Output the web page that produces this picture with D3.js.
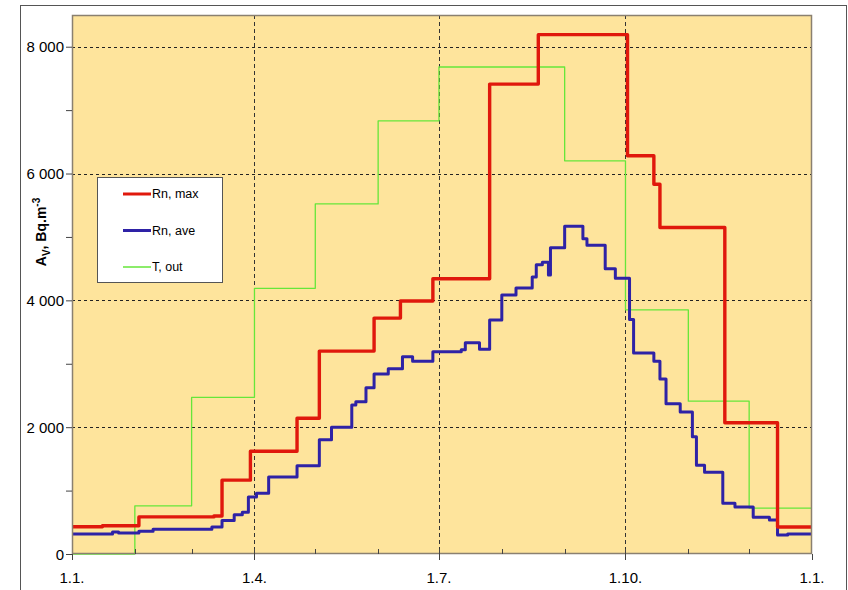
<!DOCTYPE html>
<meta charset="utf-8">
<style>
  body { margin: 0; background: #fff; }
  text { font-family: "Liberation Sans Narrow", "Liberation Sans", Arial, sans-serif; fill: #000; }
</style>
<script src="https://d3js.org/d3.v7.min.js"></script>
<svg id="chart" width="848" height="590"></svg>
<script>
  // day of year where each step starts, and its value (Bq/m3)
  var maxDays   = [0, 15, 33, 70, 74, 88, 111, 122, 149, 162, 178, 206, 230, 274, 287, 290, 322, 348, 365];
  var maxValues = [430, 445, 585, 600, 1165, 1620, 2140, 3200, 3720, 3990, 4340, 7410, 8190, 6280, 5830, 5150, 2070, 425, 425];

  var aveDays   = [0, 20, 23, 33, 40, 69, 74, 80, 84, 87, 91, 97, 111, 122, 128, 138, 140, 145, 149, 156, 163, 168, 178,
                   192, 194, 201, 206, 212, 219, 227, 229, 232, 235, 236, 243, 252, 254, 263, 268, 275, 277, 287, 290,
                   293, 300, 306, 308, 312, 321, 327, 336, 344, 348, 353, 365];
  var aveValues = [315, 345, 330, 360, 390, 425, 530, 620, 660, 900, 960, 1215, 1390, 1800, 2000, 2350, 2400, 2620, 2840, 2920, 3110, 3040, 3190,
                   3220, 3330, 3230, 3690, 4085, 4195, 4370, 4560, 4600, 4400, 4830, 5170, 4970, 4870, 4500, 4350, 3700, 3170, 3040, 2760,
                   2370, 2240, 1850, 1400, 1290, 800, 740, 580, 535, 300, 315, 315];

  // outdoor temperature (monthly steps, on the same scale)
  var tDays   = [0, 31, 59, 90, 120, 151, 181, 243, 273, 304, 334, 365];
  var tValues = [0, 760, 2470, 4190, 5520, 6830, 7680, 6200, 3850, 2410, 725, 725];

  var seriesNames = ["Rn, max", "Rn, ave", "T, out"];
  var seriesColors = ["#e0180c", "#2e22a6", "#66e63a"];
  var seriesWidths = [3.4, 3, 1.3];

  var yTicks = [0, 2000, 4000, 6000, 8000];
  var xTickLabels = ["1.1.", "1.4.", "1.7.", "1.10.", "1.1."];

  var svg = d3.select("#chart");
  var margin = { left: 72, top: 15, right: 812, bottom: 554 };

  var start = new Date(2010, 0, 1);
  function day(d) { return d3.timeDay.offset(start, d); }

  var x = d3.scaleTime()
    .domain([start, new Date(2011, 0, 1)])
    .range([margin.left, margin.right]);
  var y = d3.scaleLinear()
    .domain([0, 8500])
    .range([margin.bottom, margin.top]);

  var loc = d3.formatLocale({ decimal: ",", thousands: " ", grouping: [3], currency: ["", ""] });
  var fmt = loc.format(",d");

  // outer frame
  svg.append("rect").attr("x", 20.5).attr("y", 5.5).attr("width", 826).attr("height", 600)
    .attr("fill", "#fff").attr("stroke", "#555").attr("stroke-width", 1);

  // plot area
  svg.append("rect")
    .attr("x", margin.left).attr("y", margin.top)
    .attr("width", margin.right - margin.left).attr("height", margin.bottom - margin.top)
    .attr("fill", "#fee49c");

  // grid
  var quarters = [0, 3, 6, 9, 12].map(function(m) { return new Date(2010, m, 1); });
  svg.append("g").selectAll("line").data(yTicks.slice(1)).enter().append("line")
    .attr("x1", margin.left).attr("x2", margin.right)
    .attr("y1", function(d) { return Math.round(y(d)) + 0.5; })
    .attr("y2", function(d) { return Math.round(y(d)) + 0.5; })
    .attr("stroke", "#222").attr("stroke-dasharray", "3,3");
  svg.append("g").selectAll("line").data(quarters.slice(1, 4)).enter().append("line")
    .attr("x1", function(d) { return Math.round(x(d)) + 0.5; })
    .attr("x2", function(d) { return Math.round(x(d)) + 0.5; })
    .attr("y1", margin.top).attr("y2", margin.bottom)
    .attr("stroke", "#333").attr("stroke-dasharray", "4,3");

  // lines
  var line = d3.line()
    .x(function(d) { return x(day(d[0])); })
    .y(function(d) { return y(d[1]); })
    .curve(d3.curveStepAfter);

  var series = [
    d3.zip(tDays, tValues),
    d3.zip(aveDays, aveValues),
    d3.zip(maxDays, maxValues)
  ];
  var order = [2, 1, 0];
  series.forEach(function(s, i) {
    var k = order[i];
    svg.append("path").datum(s)
      .attr("d", line)
      .attr("fill", "none")
      .attr("stroke", seriesColors[k])
      .attr("stroke-width", seriesWidths[k])
      .attr("stroke-linejoin", "round");
  });

  // plot border
  svg.append("rect")
    .attr("x", margin.left + 0.5).attr("y", margin.top + 0.5)
    .attr("width", margin.right - margin.left - 1).attr("height", margin.bottom - margin.top - 1)
    .attr("fill", "none").attr("stroke", "#8a8070").attr("stroke-width", 1.5);

  // y axis
  var yAxis = d3.axisLeft(y).tickValues(d3.range(0, 8001, 1000))
    .tickSize(6).tickFormat(function(d) { return d % 2000 === 0 ? fmt(d) : ""; });
  var gy = svg.append("g").attr("transform", "translate(" + margin.left + ",0)").call(yAxis);
  gy.select(".domain").remove();
  gy.selectAll("line").attr("stroke", "#444");
  gy.selectAll("text").attr("font-size", 15).attr("x", -8).attr("dy", "0.35em");

  // x axis: monthly inner ticks, quarter ticks crossing
  var months = d3.range(1, 12).map(function(m) { return new Date(2010, m, 1); });
  svg.append("g").selectAll("line").data(months).enter().append("line")
    .attr("x1", function(d) { return Math.round(x(d)) + 0.5; })
    .attr("x2", function(d) { return Math.round(x(d)) + 0.5; })
    .attr("y1", margin.bottom - 5).attr("y2", margin.bottom)
    .attr("stroke", "#444");
  svg.append("g").selectAll("line").data(quarters).enter().append("line")
    .attr("x1", function(d) { return Math.round(x(d)) + 0.5; })
    .attr("x2", function(d) { return Math.round(x(d)) + 0.5; })
    .attr("y1", margin.bottom).attr("y2", margin.bottom + 6)
    .attr("stroke", "#444");
  svg.append("g").selectAll("text").data(quarters).enter().append("text")
    .attr("x", function(d) { return x(d); })
    .attr("y", margin.bottom + 29)
    .attr("text-anchor", "middle")
    .attr("font-size", 15)
    .text(function(d, i) { return xTickLabels[i]; });

  // y label
  var yl = svg.append("text")
    .attr("transform", "translate(46,232) rotate(-90)")
    .attr("text-anchor", "middle")
    .attr("font-family", "Liberation Sans, Arial, sans-serif")
    .attr("font-weight", "bold")
    .attr("font-size", 14);
  yl.append("tspan").text("A");
  yl.append("tspan").attr("font-size", 10).attr("dy", 4).text("V");
  yl.append("tspan").attr("dy", -4).text(", Bq.m");
  yl.append("tspan").attr("font-size", 10).attr("dy", -6).text("-3");

  // legend
  var lg = svg.append("g");
  lg.append("rect").attr("x", 97.5).attr("y", 177.5).attr("width", 125).attr("height", 105)
    .attr("fill", "#fff").attr("stroke", "#555");
  seriesNames.forEach(function(name, i) {
    var yy = 194 + i * 36.5;
    lg.append("line").attr("x1", 123).attr("x2", 151).attr("y1", yy).attr("y2", yy)
      .attr("stroke", seriesColors[i]).attr("stroke-width", i === 2 ? 1.5 : 3);
    lg.append("text").attr("x", 152).attr("y", yy).attr("dy", "0.35em")
      .attr("font-size", 12.5).text(name);
  });
</script>
